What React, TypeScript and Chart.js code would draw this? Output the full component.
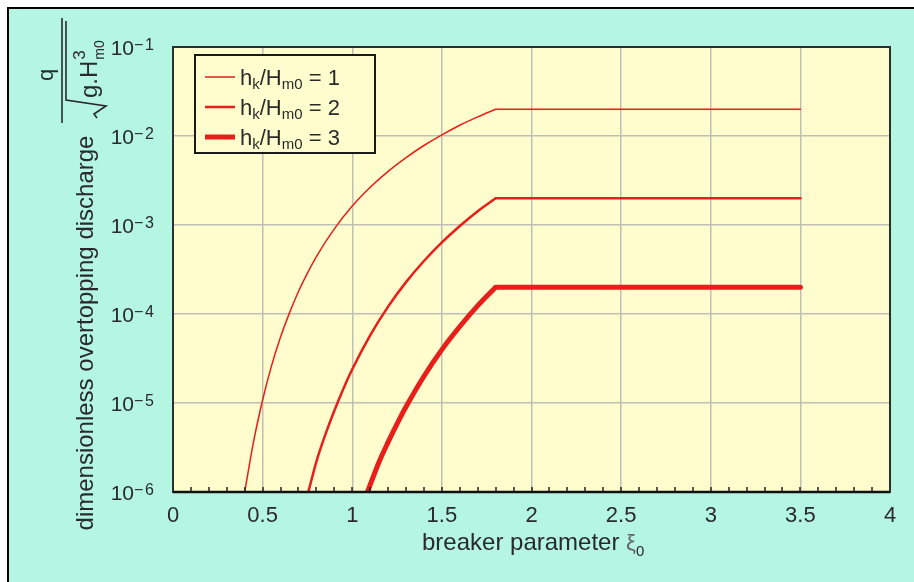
import React, { useEffect, useRef } from 'react';
import { Chart, registerables } from 'chart.js';

Chart.register(...registerables);

// ---- data ----
// rising branch of each curve, then a flat branch up to xiEnd
const xi1 = [0.40, 0.45, 0.50, 0.55, 0.60, 0.65, 0.70, 0.75, 0.80, 0.90, 1.00, 1.10, 1.20, 1.30, 1.40, 1.50, 1.60, 1.70, 1.80];
const q1 = [1.0e-6, 3.72e-6, 1.08e-5, 2.63e-5, 5.5e-5, 1.03e-4, 1.79e-4, 2.88e-4, 4.42e-4, 9.06e-4, 1.63e-3, 2.65e-3, 4.01e-3, 5.73e-3, 7.82e-3, 1.03e-2, 1.32e-2, 1.64e-2, 2.0e-2];

const xi2 = [0.755, 0.80, 0.85, 0.90, 0.95, 1.00, 1.10, 1.20, 1.30, 1.40, 1.50, 1.60, 1.70, 1.80];
const q2 = [1.0e-6, 2.2e-6, 4.42e-6, 8.2e-6, 1.44e-5, 2.39e-5, 5.75e-5, 1.21e-4, 2.28e-4, 3.94e-4, 6.37e-4, 9.75e-4, 1.43e-3, 2.0e-3];

const xi3 = [1.085, 1.15, 1.20, 1.25, 1.30, 1.40, 1.50, 1.60, 1.70, 1.80];
const q3 = [1.0e-6, 2.19e-6, 3.63e-6, 5.83e-6, 9.06e-6, 2.0e-5, 3.98e-5, 7.23e-5, 1.24e-4, 2.0e-4];

const xiEnd = 3.5;
const ratioLabels = ['1', '2', '3'];
const xTickValues = [0, 0.5, 1, 1.5, 2, 2.5, 3, 3.5, 4];
const yTickExponents = [-1, -2, -3, -4, -5, -6];

// ---- styles ----
const W = 914;
const H = 582;
const FONT = '"Liberation Sans", Arial, Helvetica, sans-serif';
const TEXT = '#2a2a2a';
const RED = '#e81e1a';
const PLOT_BG = '#fffccd';
const FRAME_BG = '#b4f6e2';
const GRID = '#bfbfba';
const LINE_WIDTHS = [1.5, 2.5, 5];

const decor = {
  id: 'decor',
  beforeDraw(chart: any) {
    const { ctx, chartArea: a } = chart;
    ctx.save();
    ctx.fillStyle = PLOT_BG;
    ctx.fillRect(a.left, a.top, a.right - a.left, a.bottom - a.top);
    ctx.restore();
  },
  afterDatasetsDraw(chart: any) {
    const { ctx, chartArea: a, scales } = chart;
    const xs = scales.x;
    const ys = scales.y;
    ctx.save();

    // minor inner ticks on the bottom axis (every 0.1)
    ctx.strokeStyle = '#222';
    ctx.lineWidth = 1.5;
    for (let i = 1; i < 40; i++) {
      const px = Math.round(xs.getPixelForValue(i / 10));
      ctx.beginPath();
      ctx.moveTo(px, a.bottom);
      ctx.lineTo(px, a.bottom - 5);
      ctx.stroke();
    }

    // plot frame
    ctx.strokeStyle = '#2e2e2e';
    ctx.lineWidth = 2;
    ctx.strokeRect(a.left, a.top, a.right - a.left, a.bottom - a.top);
    ctx.strokeStyle = '#111';
    ctx.lineWidth = 2.5;
    ctx.beginPath();
    ctx.moveTo(a.left, a.bottom);
    ctx.lineTo(a.right, a.bottom);
    ctx.stroke();

    // x tick labels
    ctx.fillStyle = TEXT;
    ctx.font = `22px ${FONT}`;
    ctx.textAlign = 'center';
    ctx.textBaseline = 'alphabetic';
    xTickValues.forEach((v) => {
      ctx.fillText(String(v), xs.getPixelForValue(v), a.bottom + 30);
    });

    // y tick labels 10^n
    yTickExponents.forEach((e) => {
      const py = ys.getPixelForValue(Math.pow(10, e));
      ctx.textAlign = 'right';
      ctx.font = `21px ${FONT}`;
      ctx.fillText('10', a.left - 39, py + 8);
      ctx.textAlign = 'left';
      ctx.font = `16px ${FONT}`;
      ctx.fillText('\u2212', a.left - 39, py + 3);
      ctx.fillText(String(-e), a.left - 28, py + 3);
    });

    // x axis title
    ctx.textAlign = 'left';
    ctx.font = `24px ${FONT}`;
    const t1 = 'breaker parameter ';
    const tx0 = 422;
    ctx.fillText(t1, tx0, 550);
    const w1 = ctx.measureText(t1).width;
    ctx.fillStyle = '#666';
    ctx.font = `22px ${FONT}`;
    ctx.fillText('ξ', tx0 + w1, 550);
    const wx = ctx.measureText('ξ').width;
    ctx.fillStyle = TEXT;
    ctx.font = `15px ${FONT}`;
    ctx.fillText('0', tx0 + w1 + wx, 556);

    // y axis title (rotated)
    ctx.save();
    ctx.translate(93, 333);
    ctx.rotate(-Math.PI / 2);
    ctx.font = `24px ${FONT}`;
    ctx.textAlign = 'center';
    ctx.fillText('dimensionless overtopping discharge', 0, 0);
    ctx.restore();

    // fraction q / sqrt(g.H^3 m0), rotated
    ctx.save();
    ctx.rotate(-Math.PI / 2);
    ctx.fillStyle = TEXT;
    ctx.strokeStyle = TEXT;
    ctx.lineWidth = 1.6;
    ctx.beginPath();
    ctx.moveTo(-123, 62);
    ctx.lineTo(-18, 62);
    ctx.stroke();
    ctx.font = `22px ${FONT}`;
    ctx.textAlign = 'center';
    ctx.fillText('q', -75, 53);
    ctx.beginPath();
    ctx.moveTo(-118, 97);
    ctx.lineTo(-114, 94);
    ctx.lineTo(-106, 106);
    ctx.lineTo(-100, 66);
    ctx.lineTo(-21, 66);
    ctx.stroke();
    ctx.textAlign = 'left';
    ctx.font = `24px ${FONT}`;
    ctx.fillText('g.H', -98, 97);
    const wg = ctx.measureText('g.H').width;
    ctx.font = `17px ${FONT}`;
    ctx.fillText('3', -98 + wg + 1, 85);
    ctx.font = `14px ${FONT}`;
    ctx.fillText('m0', -98 + wg + 1, 104);
    ctx.restore();

    // legend
    const lx = a.left + 22;
    const ly = a.top + 8;
    const lw = 180;
    const lh = 98;
    ctx.fillStyle = PLOT_BG;
    ctx.fillRect(lx, ly, lw, lh);
    ctx.strokeStyle = '#1a1a1a';
    ctx.lineWidth = 2;
    ctx.strokeRect(lx, ly, lw, lh);
    const entries = chart.data.datasets.filter((ds: any) => ds.label);
    entries.forEach((ds: any, i: number) => {
      const ry = ly + 22 + i * 30;
      ctx.strokeStyle = ds.borderColor;
      ctx.lineWidth = ds.borderWidth;
      ctx.beginPath();
      ctx.moveTo(lx + 10, ry);
      ctx.lineTo(lx + 40, ry);
      ctx.stroke();
      ctx.fillStyle = TEXT;
      ctx.textAlign = 'left';
      let x = lx + 45;
      const parts: [string, number, number][] = [
        ['h', 22, 8],
        ['k', 15, 12],
        ['/H', 22, 8],
        ['m0', 15, 12],
        [' = ' + ratioLabels[i], 22, 8],
      ];
      parts.forEach(([s, size, dy]) => {
        ctx.font = `${size}px ${FONT}`;
        ctx.fillText(s, x, ry + dy);
        x += ctx.measureText(s).width;
      });
    });

    ctx.restore();
  },
};

export default function App() {
  const ref = useRef<HTMLCanvasElement | null>(null);

  useEffect(() => {
    if (!ref.current) return;
    const series = [
      { xi: xi1, q: q1 },
      { xi: xi2, q: q2 },
      { xi: xi3, q: q3 },
    ];
    const rising = series.map((s, i) => ({
      label: 'hk/Hm0 = ' + ratioLabels[i],
      data: s.xi.map((x, j) => ({ x, y: s.q[j] })),
      borderColor: RED,
      borderWidth: LINE_WIDTHS[i],
      pointRadius: 0,
      cubicInterpolationMode: 'monotone' as const,
      fill: false,
      borderCapStyle: 'butt' as const,
    }));
    const flat = series.map((s, i) => {
      const last = s.xi.length - 1;
      return {
        label: '',
        data: [
          { x: s.xi[last], y: s.q[last] },
          { x: xiEnd, y: s.q[last] },
        ],
        borderColor: RED,
        borderWidth: LINE_WIDTHS[i],
        pointRadius: 0,
        tension: 0,
        fill: false,
        borderCapStyle: 'round' as const,
      };
    });
    const chart = new Chart(ref.current, {
      type: 'line',
      data: { datasets: [...rising, ...flat] },
      options: {
        responsive: false,
        animation: false,
        devicePixelRatio: 1,
        layout: { padding: { top: 47, right: 24, left: 0, bottom: 0 } },
        plugins: { legend: { display: false }, tooltip: { enabled: false } },
        scales: {
          x: {
            type: 'linear',
            min: 0,
            max: 4,
            ticks: { display: false, stepSize: 0.5 },
            grid: { color: GRID, lineWidth: 1.5, drawTicks: false },
            border: { display: false },
            afterFit(s: any) {
              s.height = 90;
            },
          },
          y: {
            type: 'logarithmic',
            min: 1e-6,
            max: 1e-1,
            ticks: { display: false },
            afterBuildTicks(s: any) {
              s.ticks = yTickExponents.map((e) => ({ value: Math.pow(10, e) }));
            },
            grid: { color: GRID, lineWidth: 1.5, drawTicks: false },
            border: { display: false },
            afterFit(s: any) {
              s.width = 173;
            },
          },
        },
      } as any,
      plugins: [decor],
    });
    return () => chart.destroy();
  }, []);

  return (
    <div style={{ position: 'absolute', left: 0, top: 0, width: W, height: H, background: '#fff', overflow: 'hidden' }}>
      <div
        style={{
          position: 'absolute',
          left: 7,
          top: 7,
          right: 0,
          bottom: 0,
          background: FRAME_BG,
          borderLeft: '2px solid #000',
          borderTop: '2px solid #000',
        }}
      />
      <canvas ref={ref} width={W} height={H} style={{ position: 'absolute', left: 0, top: 0, width: W, height: H }} />
    </div>
  );
}
